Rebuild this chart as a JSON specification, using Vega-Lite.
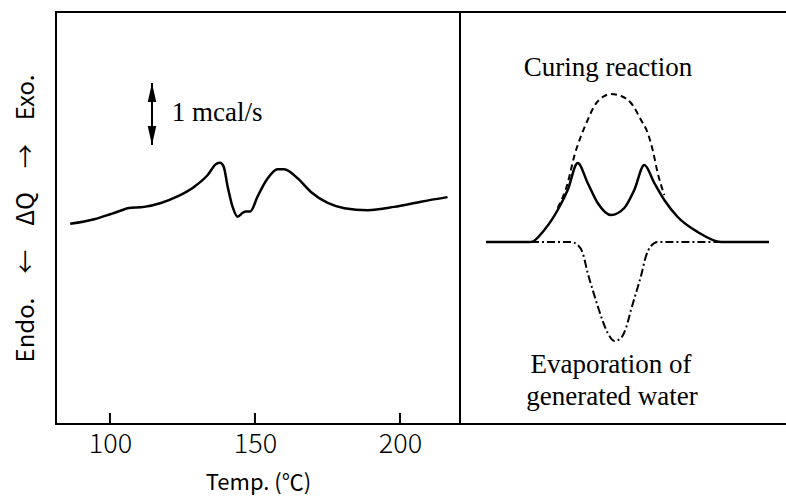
{
  "$schema": "https://vega.github.io/schema/vega-lite/v6.json",
  "autosize": {"type": "pad"},
  "padding": {"left": 13, "top": 11, "right": 0, "bottom": 2},
  "background": "white",
  "datasets": {
    "dsc": [
      {"temp": 86.3, "dq": 3.08}, {"temp": 94.6, "dq": 3.15}, {"temp": 100.3, "dq": 3.23},
      {"temp": 104.9, "dq": 3.30}, {"temp": 106.1, "dq": 3.32}, {"temp": 111.8, "dq": 3.34},
      {"temp": 117.6, "dq": 3.40}, {"temp": 123.3, "dq": 3.50}, {"temp": 129.1, "dq": 3.65},
      {"temp": 133.7, "dq": 3.83}, {"temp": 136.6, "dq": 4.00}, {"temp": 138.0, "dq": 4.02},
      {"temp": 139.2, "dq": 3.96}, {"temp": 140.6, "dq": 3.65}, {"temp": 142.3, "dq": 3.34},
      {"temp": 144.0, "dq": 3.19}, {"temp": 145.8, "dq": 3.25}, {"temp": 146.9, "dq": 3.27},
      {"temp": 148.4, "dq": 3.27}, {"temp": 150.9, "dq": 3.50}, {"temp": 154.4, "dq": 3.78},
      {"temp": 157.8, "dq": 3.92}, {"temp": 160.1, "dq": 3.92}, {"temp": 164.7, "dq": 3.78},
      {"temp": 169.3, "dq": 3.57}, {"temp": 175.1, "dq": 3.40}, {"temp": 180.8, "dq": 3.32},
      {"temp": 188.9, "dq": 3.29}, {"temp": 198.0, "dq": 3.34}, {"temp": 207.2, "dq": 3.42},
      {"temp": 216.4, "dq": 3.49}
    ],
    "xticks": [
      {"temp": 100, "dq": 0, "dq2": 0.17},
      {"temp": 150, "dq": 0, "dq2": 0.17},
      {"temp": 200, "dq": 0, "dq2": 0.17}
    ],
    "arrow": [{"temp": 114.5, "dq": 4.292, "dq2": 5.246}],
    "scalelabel": [{"temp": 121.3, "dq": 4.785, "label": "1 mcal/s"}],
    "schematic": [
      {"curve": "total", "x": 26, "y": 0}, {"curve": "total", "x": 71, "y": 0},
      {"curve": "total", "x": 84.3, "y": 12}, {"curve": "total", "x": 97.7, "y": 32},
      {"curve": "total", "x": 107.7, "y": 52}, {"curve": "total", "x": 117.7, "y": 79},
      {"curve": "total", "x": 127.7, "y": 59}, {"curve": "total", "x": 137.7, "y": 39},
      {"curve": "total", "x": 151, "y": 27}, {"curve": "total", "x": 164.3, "y": 34},
      {"curve": "total", "x": 174.3, "y": 52}, {"curve": "total", "x": 184.3, "y": 77},
      {"curve": "total", "x": 194.3, "y": 59}, {"curve": "total", "x": 204.3, "y": 42},
      {"curve": "total", "x": 217.7, "y": 25}, {"curve": "total", "x": 237.7, "y": 10},
      {"curve": "total", "x": 261, "y": 0}, {"curve": "total", "x": 309, "y": 0},
      {"curve": "curing", "x": 97.7, "y": 34}, {"curve": "curing", "x": 107.7, "y": 59},
      {"curve": "curing", "x": 114.3, "y": 86}, {"curve": "curing", "x": 121, "y": 106},
      {"curve": "curing", "x": 127.7, "y": 122}, {"curve": "curing", "x": 134.3, "y": 136},
      {"curve": "curing", "x": 142.7, "y": 145}, {"curve": "curing", "x": 151, "y": 148},
      {"curve": "curing", "x": 161, "y": 146}, {"curve": "curing", "x": 171, "y": 139},
      {"curve": "curing", "x": 181, "y": 122}, {"curve": "curing", "x": 187.7, "y": 109},
      {"curve": "curing", "x": 192.7, "y": 92}, {"curve": "curing", "x": 197.7, "y": 69},
      {"curve": "curing", "x": 204.3, "y": 47},
      {"curve": "evap", "x": 71, "y": 0}, {"curve": "evap", "x": 111, "y": 0},
      {"curve": "evap", "x": 117.7, "y": -3}, {"curve": "evap", "x": 122.7, "y": -11},
      {"curve": "evap", "x": 127.7, "y": -31}, {"curve": "evap", "x": 132.7, "y": -48},
      {"curve": "evap", "x": 137.7, "y": -64}, {"curve": "evap", "x": 142.7, "y": -79},
      {"curve": "evap", "x": 147.7, "y": -91}, {"curve": "evap", "x": 154.3, "y": -99},
      {"curve": "evap", "x": 161, "y": -96}, {"curve": "evap", "x": 166, "y": -86},
      {"curve": "evap", "x": 171, "y": -68}, {"curve": "evap", "x": 176, "y": -51},
      {"curve": "evap", "x": 181, "y": -34}, {"curve": "evap", "x": 186, "y": -14},
      {"curve": "evap", "x": 191, "y": -4}, {"curve": "evap", "x": 197.7, "y": 0},
      {"curve": "evap", "x": 261, "y": 0}
    ],
    "frame": [{"y": 230}, {"y": -182}],
    "notes": [
      {"x": 148, "y": 174, "label": "Curing reaction"},
      {"x": 151, "y": -123, "label": "Evaporation of"},
      {"x": 152, "y": -155, "label": "generated water"}
    ]
  },
  "spacing": 0,
  "bounds": "flush",
  "hconcat": [
    {
      "width": 404,
      "height": 412,
      "view": {"stroke": "black", "strokeWidth": 2},
      "encoding": {
        "x": {
          "field": "temp", "type": "quantitative",
          "scale": {"domain": [81.4, 220.7], "nice": false, "zero": false},
          "axis": {
            "values": [100, 150, 200], "ticks": false,
            "domain": false, "grid": false,
            "labelFont": "Noto Sans CJK JP", "labelFontSize": 27, "labelFontWeight": 300,
            "labelColor": "black", "labelPadding": 7,
            "title": "Temp. (℃)", "titleFont": "Noto Sans CJK JP", "titleFontSize": 22,
            "titleFontWeight": "normal", "titleColor": "black", "titlePadding": 15
          }
        },
        "y": {
          "field": "dq", "type": "quantitative",
          "scale": {"domain": [0, 6.338], "nice": false, "zero": false},
          "axis": {
            "ticks": false, "labels": false, "domain": false, "grid": false,
            "title": "Endo.\u2003←\u2003ΔQ\u2003→\u2003Exo.",
            "titleFont": "Noto Sans CJK JP", "titleFontSize": 24, "titleFontWeight": "normal",
            "titleColor": "black", "titlePadding": 18
          }
        }
      },
      "layer": [
        {
          "data": {"name": "dsc"},
          "mark": {"type": "line", "color": "black", "strokeWidth": 2.5, "interpolate": "monotone"}
        },
        {
          "data": {"name": "xticks"},
          "mark": {"type": "rule", "color": "black", "strokeWidth": 2},
          "encoding": {"y2": {"field": "dq2"}}
        },
        {
          "data": {"name": "arrow"},
          "mark": {"type": "rule", "color": "black", "strokeWidth": 2},
          "encoding": {"y2": {"field": "dq2"}}
        },
        {
          "data": {"name": "arrow"},
          "mark": {"type": "point", "filled": true, "color": "black", "opacity": 1, "size": 361, "shape": "M0,0L0.45,2L-0.45,2Z"},
          "encoding": {"y": {"field": "dq2", "type": "quantitative"}}
        },
        {
          "data": {"name": "arrow"},
          "mark": {"type": "point", "filled": true, "color": "black", "opacity": 1, "size": 361, "shape": "M0,0L0.45,-2L-0.45,-2Z"}
        },
        {
          "data": {"name": "scalelabel"},
          "mark": {"type": "text", "font": "Liberation Serif", "fontSize": 27, "align": "left", "baseline": "middle", "color": "black"},
          "encoding": {"text": {"field": "label"}}
        }
      ]
    },
    {
      "width": 327,
      "height": 412,
      "view": {"stroke": null},
      "encoding": {
        "x": {"field": "x", "type": "quantitative", "scale": {"domain": [0, 327], "nice": false, "zero": false}, "axis": null},
        "y": {"field": "y", "type": "quantitative", "scale": {"domain": [-182, 230], "nice": false, "zero": false}, "axis": null}
      },
      "layer": [
        {
          "data": {"name": "frame"},
          "mark": {"type": "rule", "color": "black", "strokeWidth": 2},
          "encoding": {"x": null}
        },
        {
          "data": {"name": "schematic"},
          "transform": [{"filter": "datum.curve === 'curing'"}],
          "mark": {"type": "line", "color": "black", "strokeWidth": 2, "strokeDash": [6, 4], "interpolate": "monotone"}
        },
        {
          "data": {"name": "schematic"},
          "transform": [{"filter": "datum.curve === 'evap'"}],
          "mark": {"type": "line", "color": "black", "strokeWidth": 2, "strokeDash": [8, 3, 2, 3], "interpolate": "monotone"}
        },
        {
          "data": {"name": "schematic"},
          "transform": [{"filter": "datum.curve === 'total'"}],
          "mark": {"type": "line", "color": "black", "strokeWidth": 2.5, "interpolate": "monotone"}
        },
        {
          "data": {"name": "notes"},
          "mark": {"type": "text", "font": "Liberation Serif", "fontSize": 27, "align": "center", "baseline": "middle", "color": "black"},
          "encoding": {"text": {"field": "label"}}
        }
      ]
    }
  ]
}
